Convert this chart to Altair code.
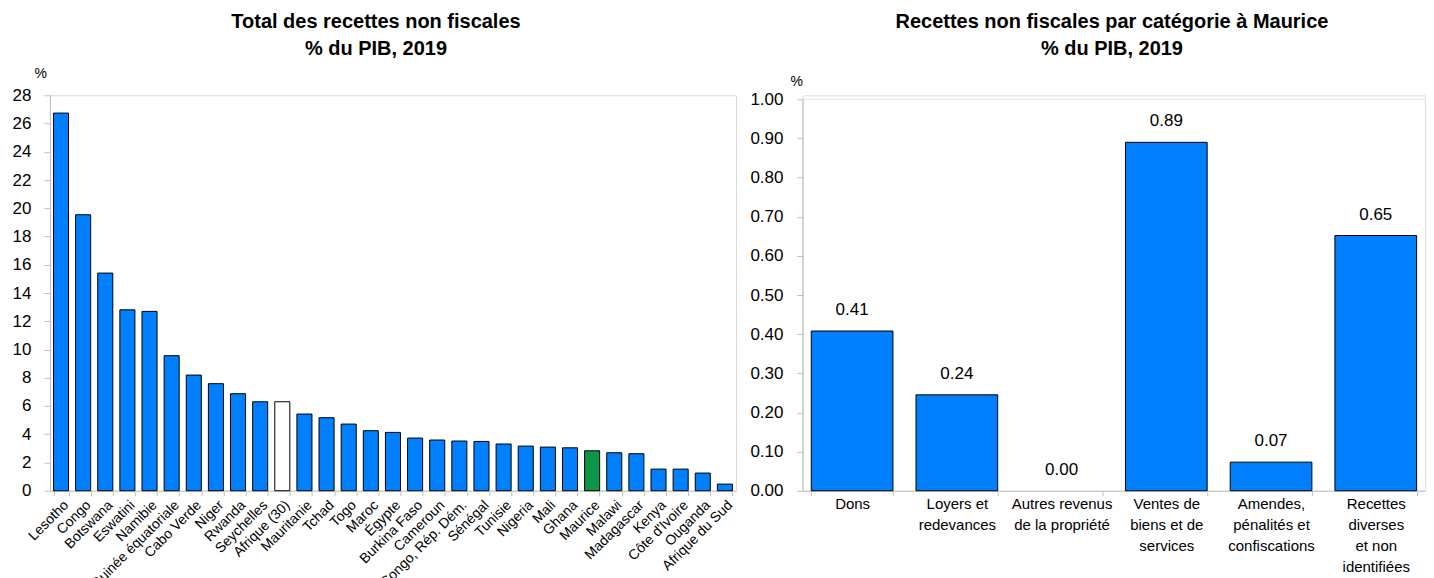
import altair as alt
import pandas as pd

# ---- Left chart data ----
pays = ["Lesotho", "Congo", "Botswana", "Eswatini", "Namibie", "Guinée équatoriale",
        "Cabo Verde", "Niger", "Rwanda", "Seychelles", "Afrique (30)", "Mauritanie",
        "Tchad", "Togo", "Maroc", "Égypte", "Burkina Faso", "Cameroun",
        "Congo, Rép. Dém.", "Sénégal", "Tunisie", "Nigeria", "Mali", "Ghana",
        "Maurice", "Malawi", "Madagascar", "Kenya", "Côte d'Ivoire", "Ouganda",
        "Afrique du Sud"]
valeurs = [26.74, 19.54, 15.41, 12.81, 12.70, 9.56, 8.19, 7.58, 6.87, 6.30, 6.30,
           5.43, 5.17, 4.72, 4.25, 4.13, 3.73, 3.59, 3.52, 3.49, 3.31, 3.16, 3.09,
           3.04, 2.83, 2.69, 2.62, 1.53, 1.53, 1.25, 0.47]
pays_moyenne = ["Afrique (30)"]
pays_focus = ["Maurice"]
ticks_gauche = list(range(0, 29, 2))

# ---- Right chart data ----
categories = ["Dons", "Loyers et|redevances", "Autres revenus|de la propriété",
              "Ventes de|biens et de|services", "Amendes,|pénalités et|confiscations",
              "Recettes|diverses|et non|identifiées"]
valeurs_maurice = [0.408, 0.245, 0.0, 0.89, 0.073, 0.652]
ticks_droite = [0.0, 0.1, 0.2, 0.3, 0.4, 0.5, 0.6, 0.7, 0.8, 0.9, 1.0]

BLUE = "#0080ff"
GREEN = "#0d9648"
AXIS_GRAY = "#bfbfbf"
TOP_GRAY = "#e3e3e3"
FONT = "Liberation Sans"

def kind(p):
    if p in pays_moyenne:
        return "moyenne"
    if p in pays_focus:
        return "focus"
    return "pays"

left_df = pd.DataFrame({"pays": pays, "valeur": valeurs})
left_df["kind"] = left_df["pays"].map(kind)

LW, LH = 687, 396
RW, RH = 623, 396
R_GAP = 4                       # px between right plot top and the 1.00 level
R_TOP = 1.0 * RH / (RH - R_GAP)

left_bars = alt.Chart(left_df).mark_bar(stroke="black", strokeWidth=1).encode(
    x=alt.X("pays:N", sort=None,
            scale=alt.Scale(paddingInner=0.32, paddingOuter=0.16),
            axis=alt.Axis(title=None, labelAngle=-45, labelFontSize=14, labelFont=FONT,
                          labelColor="black", tickBand="extent", domainColor=AXIS_GRAY,
                          tickColor=AXIS_GRAY, tickSize=5, labelPadding=2)),
    y=alt.Y("valeur:Q", scale=alt.Scale(domain=[0, 28], nice=False),
            axis=alt.Axis(values=ticks_gauche, grid=False, title="%", labelOverlap=False,
                          titleAngle=0, titleAlign="left", titleBaseline="middle",
                          titleX=-16, titleY=-22, titleFontWeight="normal",
                          titleFontSize=14, titleFont=FONT, labelFont=FONT,
                          labelFontSize=17, labelColor="black", domainColor=AXIS_GRAY,
                          tickColor=AXIS_GRAY, tickSize=6, labelPadding=13)),
    color=alt.Color("kind:N", scale=alt.Scale(domain=["pays", "moyenne", "focus"],
                                              range=[BLUE, "white", GREEN]), legend=None),
)

top_line_l = alt.Chart(pd.DataFrame({"a": [0]})).mark_rule(color=TOP_GRAY, strokeWidth=1).encode(
    x=alt.value(0), x2=alt.value(LW), y=alt.value(0))

left = alt.layer(left_bars, top_line_l).properties(
    width=LW, height=LH,
    title=alt.TitleParams(["Total des recettes non fiscales", "% du PIB, 2019"],
                          font=FONT, fontSize=20, fontWeight="bold", anchor="middle",
                          dx=-17, offset=7, lineHeight=27))

right_df = pd.DataFrame({"cat": categories, "valeur": valeurs_maurice})

right_x_axis = alt.Axis(title=None, labelAngle=0, labelFontSize=15, labelFont=FONT,
                        labelColor="black", tickBand="extent", domainColor=AXIS_GRAY,
                        tickColor=AXIS_GRAY, tickSize=5, labelPadding=1,
                        labelExpr="split(datum.label, '|')", labelLineHeight=21,
                        labelBaseline="top")
right_y_axis = alt.Axis(values=ticks_droite, tickCount=11, format=".2f", grid=False,
                        domain=False, labelOverlap=False,
                        title="%", titleAngle=0, titleAlign="left", titleBaseline="middle",
                        titleX=-13, titleY=-14, titleFontWeight="normal",
                        titleFontSize=14, titleFont=FONT, labelFont=FONT,
                        labelFontSize=17, labelColor="black",
                        tickColor=AXIS_GRAY, tickSize=6, labelPadding=14)
right_x = alt.X("cat:N", sort=None, scale=alt.Scale(paddingInner=0.22, paddingOuter=0.08),
                axis=right_x_axis)
right_y = alt.Y("valeur:Q", scale=alt.Scale(domain=[0, R_TOP], nice=False),
                axis=right_y_axis)

right_bars = alt.Chart(right_df).mark_bar(strokeWidth=1, color=BLUE, stroke="black").encode(
    x=right_x, y=right_y,
    strokeOpacity=alt.condition("datum.valeur > 0", alt.value(1), alt.value(0)),
)

right_text = alt.Chart(right_df).mark_text(baseline="bottom", dy=-12, fontSize=17,
                                           font=FONT, color="black").encode(
    x=right_x, y=right_y,
    text=alt.Text("valeur:Q", format=".2f"),
)

one_row = pd.DataFrame({"a": [0]})
axis_line_r = alt.Chart(one_row).mark_rule(color=AXIS_GRAY, strokeWidth=1).encode(
    x=alt.value(0), y=alt.value(R_GAP), y2=alt.value(RH))
top_line_r = alt.Chart(one_row).mark_rule(color=TOP_GRAY, strokeWidth=1).encode(
    x=alt.value(0), x2=alt.value(RW), y=alt.value(R_GAP))

right = alt.layer(right_bars, right_text, top_line_r, axis_line_r).properties(
    width=RW, height=RH,
    title=alt.TitleParams(["Recettes non fiscales par catégorie à Maurice", "% du PIB, 2019"],
                          font=FONT, fontSize=20, fontWeight="bold", anchor="middle",
                          dx=-2, offset=15, lineHeight=27))

chart = alt.hconcat(left, right, spacing=12).properties(
    padding={"left": 3, "top": 3, "right": 0, "bottom": 0}
).configure_view(stroke=None).configure(background="white")

chart.save("out.html", embed_options={"renderer": "svg", "actions": False})
